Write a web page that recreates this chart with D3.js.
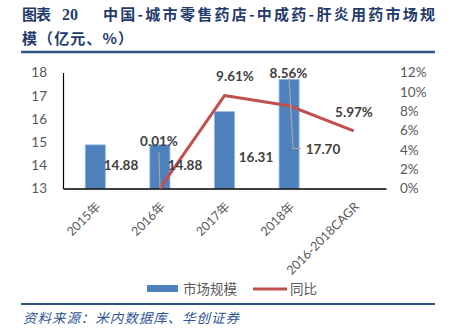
<!DOCTYPE html>
<html>
<head>
<meta charset="utf-8">
<script src="https://cdn.jsdelivr.net/npm/d3@7/dist/d3.min.js"></script>
<style>
  html, body { margin: 0; padding: 0; background: #fff; }
  svg { display: block; }
</style>
</head>
<body>
<svg id="chart" width="453" height="333"></svg>
<script>
// Market size (亿元) and year-on-year growth
const categories = ["2015年", "2016年", "2017年", "2018年", "2016-2018CAGR"];
const marketSize = [14.88, 14.88, 16.31, 17.70, null];
const growth = [null, 0.0001, 0.0961, 0.0856, 0.0597];
const leftTicks = [13, 14, 15, 16, 17, 18];
const rightTicks = [0, 0.02, 0.04, 0.06, 0.08, 0.10, 0.12];

const svg = d3.select("#chart");
const plot = { left: 63, right: 386, top: 72.5, bottom: 188.5 };

const titleColor = "#1f3b6b";
const tickColor = "#595959";
const labelColor = "#404040";
const barColor = "#4f81bd";
const lineColor = "#c0504d";
const cjk = "'Noto Sans CJK SC', 'Noto Sans', sans-serif";
const latin = "Lato, 'Noto Sans CJK SC', sans-serif";

// Title
const titleFont = sel => sel
  .attr("font-family", cjk).attr("font-weight", 700).attr("font-size", 15)
  .attr("fill", titleColor);
svg.append("text").attr("x", 22).attr("y", 20).call(titleFont)
  .attr("textLength", 29).attr("lengthAdjust", "spacing").text("图表");
svg.append("text").attr("x", 62).attr("y", 20).call(titleFont)
  .attr("font-family", "'Liberation Serif', serif").attr("font-size", 16)
  .text("20");
svg.append("text").attr("x", 103).attr("y", 20).call(titleFont)
  .attr("textLength", 332).attr("lengthAdjust", "spacing")
  .text("中国-城市零售药店-中成药-肝炎用药市场规");
svg.append("text").attr("x", 22).attr("y", 44).call(titleFont)
  .attr("textLength", 111).attr("lengthAdjust", "spacing")
  .text("模（亿元、%）");
svg.append("line")
  .attr("x1", 21).attr("x2", 435).attr("y1", 52).attr("y2", 52)
  .attr("stroke", "#2d5286").attr("stroke-width", 2.5);

// Scales
const x = d3.scaleBand().domain(categories).range([plot.left, plot.right]).padding(0);
const yL = d3.scaleLinear().domain([13, 18]).range([plot.bottom, plot.top]);
const yR = d3.scaleLinear().domain([0, 0.12]).range([plot.bottom, plot.top]);
const barW = 20;
const cx = c => x(c) + x.bandwidth() / 2;

// Left axis
const axL = svg.append("g").attr("transform", `translate(${plot.left},0)`)
  .call(d3.axisLeft(yL).tickValues(leftTicks).tickSize(0).tickPadding(16).tickFormat(d3.format("d")));
axL.select(".domain").attr("stroke", "#000").attr("stroke-width", 1.2);
axL.selectAll("text").attr("font-family", latin).attr("font-size", 13.5).attr("fill", tickColor);

// Right axis
const axR = svg.append("g").attr("transform", `translate(${plot.right},0)`)
  .call(d3.axisRight(yR).tickValues(rightTicks).tickSize(0).tickPadding(14).tickFormat(d3.format(".0%")));
axR.select(".domain").remove();
axR.selectAll("text").attr("font-family", latin).attr("font-size", 13.5).attr("fill", tickColor);

// Bars
const barData = categories.map((c, i) => ({ c, v: marketSize[i] })).filter(d => d.v != null);
svg.append("g").selectAll("rect").data(barData).join("rect")
  .attr("x", d => cx(d.c) - barW / 2)
  .attr("y", d => yL(d.v))
  .attr("width", barW)
  .attr("height", d => yL(13) - yL(d.v))
  .attr("fill", barColor)
  .attr("stroke", "#8eb4e3").attr("stroke-width", 0.8);

// Bottom axis
const axB = svg.append("g").attr("transform", `translate(0,${plot.bottom})`)
  .call(d3.axisBottom(x).tickSize(0).tickPadding(0));
axB.select(".domain").attr("stroke", "#000").attr("stroke-width", 1.5);
axB.selectAll("text")
  .attr("font-family", latin).attr("font-size", 12.5).attr("fill", tickColor)
  .attr("text-anchor", "end")
  .attr("dy", 0)
  .attr("transform", "translate(6,19) rotate(-45)");

// Growth line
const lineData = categories.map((c, i) => ({ c, v: growth[i] })).filter(d => d.v != null);
svg.append("path")
  .datum(lineData)
  .attr("fill", "none")
  .attr("stroke", lineColor).attr("stroke-width", 3)
  .attr("stroke-linejoin", "round")
  .attr("d", d3.line().x(d => cx(d.c)).y(d => yR(d.v)));

// Leader lines for displaced labels
const leader = d3.line();
svg.append("path")
  .attr("d", leader([[cx("2016年"), yR(0) - 1], [cx("2016年") - 1, 152]]))
  .attr("stroke", "#a6a6a6").attr("stroke-width", 1.2).attr("fill", "none");
svg.append("path")
  .attr("d", leader([[cx("2018年"), 78], [cx("2018年") + 4, 148.5], [301, 148.5]]))
  .attr("stroke", "#a6a6a6").attr("stroke-width", 1.2).attr("fill", "none");

// Value labels for bars
const barLabelPos = {
  "2015年": [121, 165],
  "2016年": [185, 165],
  "2017年": [256, 157.5],
  "2018年": [323, 149]
};
svg.append("g").selectAll("text").data(barData).join("text")
  .attr("x", d => barLabelPos[d.c][0])
  .attr("y", d => barLabelPos[d.c][1])
  .attr("dy", "0.35em")
  .attr("text-anchor", "middle")
  .attr("font-family", latin).attr("font-weight", 700).attr("font-size", 13.5)
  .attr("fill", labelColor)
  .text(d => d3.format(".2f")(d.v));

// Value labels for growth
const growthLabelPos = {
  "2016年": [159, 141],
  "2017年": [235, 76],
  "2018年": [288.5, 73.5],
  "2016-2018CAGR": [354, 112]
};
svg.append("g").selectAll("text").data(lineData).join("text")
  .attr("x", d => growthLabelPos[d.c][0])
  .attr("y", d => growthLabelPos[d.c][1])
  .attr("dy", "0.35em")
  .attr("text-anchor", "middle")
  .attr("font-family", latin).attr("font-weight", 700).attr("font-size", 13.5)
  .attr("fill", labelColor)
  .text(d => d3.format(".2%")(d.v));

// Legend
const lg = svg.append("g");
lg.append("rect").attr("x", 147).attr("y", 285).attr("width", 31).attr("height", 7).attr("fill", barColor);
lg.append("text").attr("x", 183).attr("y", 289).attr("dy", "0.35em")
  .attr("font-family", cjk).attr("font-size", 13.5).attr("fill", tickColor).text("市场规模");
lg.append("line").attr("x1", 253).attr("x2", 287).attr("y1", 289).attr("y2", 289)
  .attr("stroke", lineColor).attr("stroke-width", 3);
lg.append("text").attr("x", 290).attr("y", 289).attr("dy", "0.35em")
  .attr("font-family", cjk).attr("font-size", 13.5).attr("fill", tickColor).text("同比");

// Footer
svg.append("line")
  .attr("x1", 21).attr("x2", 435).attr("y1", 304).attr("y2", 304)
  .attr("stroke", "#2d5286").attr("stroke-width", 1.8);
svg.append("text")
  .attr("x", 23).attr("y", 323)
  .attr("font-family", cjk).attr("font-size", 13.5).attr("font-style", "italic")
  .attr("fill", "#2f5597")
  .attr("textLength", 216).attr("lengthAdjust", "spacing")
  .text("资料来源：米内数据库、华创证券");
</script>
</body>
</html>
